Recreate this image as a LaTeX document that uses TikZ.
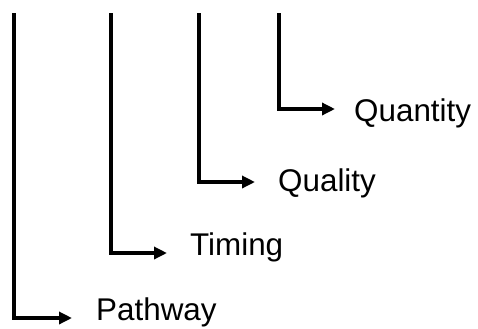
\documentclass[tikz,border=0pt]{standalone}
\usepackage{fontspec}
\setmainfont{Liberation Sans}
\usetikzlibrary{arrows.meta}
\begin{document}
\begin{tikzpicture}[
  x=1bp, y=-1bp,
  font=\fontsize{31.5}{36}\selectfont,
  label/.style = {anchor=base west, inner sep=0pt},
  branch/.style = {-{Triangle[length=13bp, width=12bp]}, line width=4bp}
]
\useasboundingbox (0,0) rectangle (478,328);

% Tops of the four branches
\coordinate (topPath) at (14,13);
\coordinate (topTime) at (111,13);
\coordinate (topQual) at (199,13);
\coordinate (topQuant) at (279,13);

% Arrow tips
\coordinate (tipPath) at (72,318);
\coordinate (tipTime) at (167,253);
\coordinate (tipQual) at (255,182);
\coordinate (tipQuant) at (335,109);

% Labels
\node[label] (path) at (96,320) {Pathway};
\node[label] (time) at (190,255) {Timing};
\node[label] (qual) at (278,191) {Quality};
\node[label] (quant) at (354,121) {Quantity};

% Branches
\draw[branch] (topPath) |- (tipPath);
\draw[branch] (topTime) |- (tipTime);
\draw[branch] (topQual) |- (tipQual);
\draw[branch] (topQuant) |- (tipQuant);

\end{tikzpicture}
\end{document}
